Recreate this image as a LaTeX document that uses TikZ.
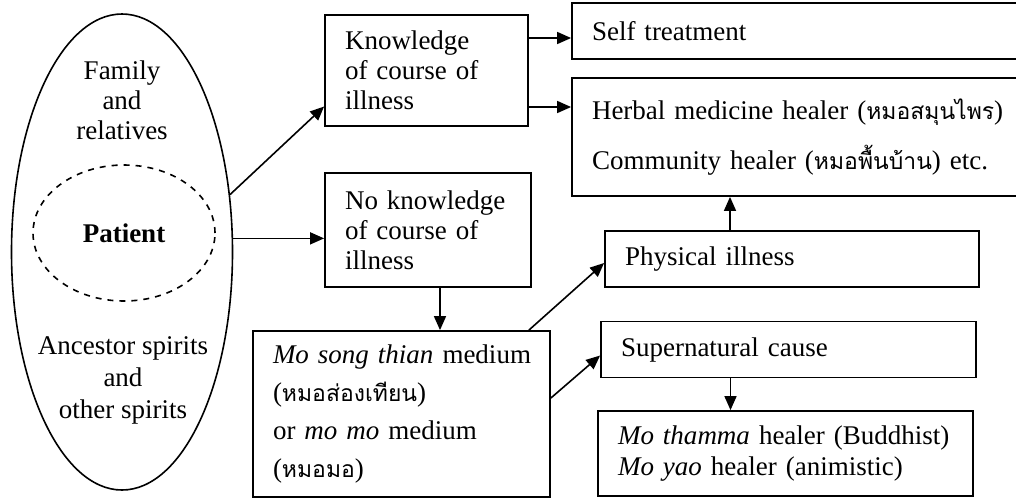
\documentclass[tikz,border=0pt]{standalone}
\usepackage{fontspec}
\setmainfont{Liberation Serif}
\newfontfamily\thaifont[Script=Thai,Scale=0.85]{Loma}
\usetikzlibrary{shapes.geometric,arrows.meta}

\tikzset{
  box/.style={draw, line width=0.9pt, align=left, inner xsep=10pt, inner ysep=0pt},
  arr/.style={line width=0.8pt, -{Triangle[length=7pt,width=6pt]}},
  lbl/.style={align=center, inner sep=0pt}
}
\newcommand{\thaitext}[1]{{\thaifont #1}}

\begin{document}
\begin{tikzpicture}[x=0.5pt,y=-0.5pt]
    \useasboundingbox (0,0) rectangle (1016,499);
    \clip (0,0) rectangle (1016,499);
    \fontsize{13.5}{15}\selectfont
    % left: patient and the people round him
    \node[draw, ellipse, line width=0.8pt, minimum width=110.5pt, minimum height=238pt, inner sep=0pt] (group) at (122,252) {};
    \node[draw, ellipse, dashed, line width=0.8pt, minimum width=91pt, minimum height=68pt, inner sep=0pt, font=\bfseries] (patient) at (124,233) {Patient};
    \node[lbl] (fam) at (122,100) {Family\\and\\relatives};
    \node[lbl, font=\fontsize{13.5}{16}\selectfont] (anc) at (123,380) {Ancestor spirits\\and\\other spirits};
    % boxes
    \node[box, text width=81.5pt, minimum height=55.5pt] (know) at (426.5,70.5) {Knowledge\\of course of\\illness};
    \node[box, text width=83pt, minimum height=57pt] (noknow) at (428,230) {No knowledge\\of course of\\illness};
    \node[box, text width=128.5pt, minimum height=83pt, font=\fontsize{13.5}{19}\selectfont] (mosong) at (401.5,414) {\mbox{\emph{Mo song thian} medium}\\(\thaitext{หมอส่องเทียน})\\or \emph{mo mo} medium\\(\thaitext{หมอมอ})};
    \node[box, text width=230pt, minimum height=28pt] (self) at (822,31) {Self treatment};
    \node[box, text width=230pt, minimum height=59pt, font=\fontsize{13.5}{25}\selectfont] (herbal) at (822,137) {Herbal medicine healer (\thaitext{หมอสมุนไพร})\\Community healer (\thaitext{หมอพื้นบ้าน}) etc.};
    \node[box, text width=167pt, minimum height=28pt] (phys) at (792,259) {Physical illness};
    \node[box, text width=167.5pt, minimum height=28pt] (super) at (788.5,349.5) {Supernatural cause};
    \node[box, text width=167.5pt, minimum height=42.5pt, font=\fontsize{13.5}{15.5}\selectfont] (thamma) at (785.5,453.5) {\emph{Mo thamma} healer (Buddhist)\\\emph{Mo yao} healer (animistic)};
    % arrows
    \draw[arr] (group.28) -- ([yshift=-18pt]know.west);
    \draw[arr] (group.7) -- (group.7 -| noknow.west);
    \draw[arr] ([yshift=-3.5pt]self.west -| know.east) -- ([yshift=-3.5pt]self.west);
    \draw[arr] ([yshift=15pt]herbal.west -| know.east) -- ([yshift=15pt]herbal.west);
    \draw[arr] ([xshift=6pt]noknow.south) -- ([xshift=6pt]noknow.south |- mosong.north);
    \draw[arr] ([xshift=-11pt]mosong.north east) -- ([yshift=-2pt]phys.west);
    \draw[arr] ([yshift=8pt]mosong.east) -- ([yshift=-3pt]super.west);
    \draw[arr] ([xshift=-31pt]phys.north) -- ([xshift=-31pt]phys.north |- herbal.south);
    \draw[arr] ([xshift=-29pt]super.south) -- ([xshift=-29pt]super.south |- thamma.north);
\end{tikzpicture}
\end{document}
